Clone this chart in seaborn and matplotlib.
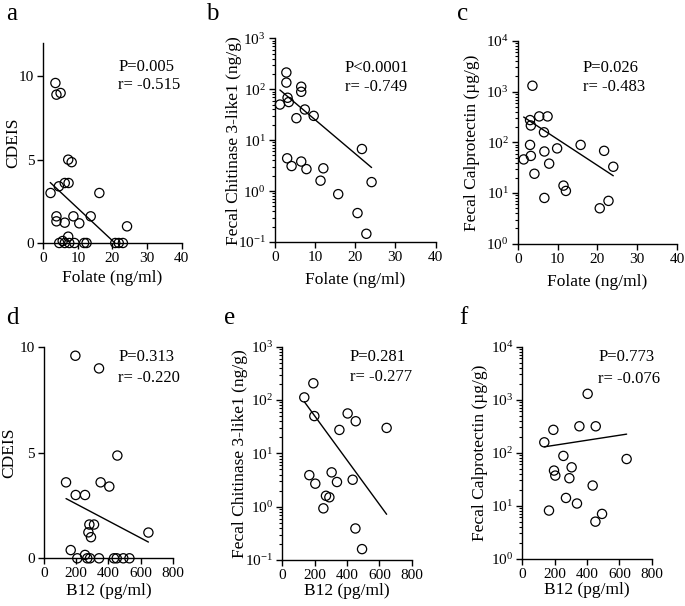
import numpy as np
import pandas as pd
import matplotlib
matplotlib.use("Agg")
import matplotlib.pyplot as plt
import matplotlib.ticker as mticker
import seaborn as sns

# ---- data ----
folate_a = [3.5, 3.8, 5.0, 7.2, 8.2, 2.1, 4.5, 6.2, 7.3, 16.2, 3.8, 3.8, 6.2, 8.7,
            10.4, 13.7, 24.2, 7.2, 5.6, 4.6, 6.2, 7.5, 9.0, 11.8, 12.5, 20.8, 21.8, 23.0]
cdeis_a = [9.6, 8.9, 9.0, 5.0, 4.85, 3.0, 3.4, 3.6, 3.6, 3.0, 1.6, 1.3, 1.22, 1.6,
           1.18, 1.6, 1.0, 0.38, 0.12, 0, 0, 0, 0, 0, 0, 0, 0, 0]

folate_b = [2.9, 2.9, 6.6, 6.6, 3.2, 3.5, 1.3, 7.5, 9.7, 5.4, 21.7, 3.1, 6.6, 4.2,
            7.9, 12.1, 11.4, 24.1, 15.8, 20.6, 22.8]
chi3l1_b = [213, 135, 112, 89, 68, 56, 50, 40, 30, 27, 6.7, 4.4, 3.8, 3.1,
            2.7, 2.8, 1.6, 1.5, 0.87, 0.37, 0.145]

folate_c = [3.7, 5.4, 7.5, 3.1, 3.3, 6.6, 3.1, 15.8, 9.9, 6.7, 21.7, 3.3, 1.5, 7.9,
            24.0, 4.2, 11.5, 12.1, 6.7, 22.8, 20.6]
calpro_c = [1310, 325, 325, 275, 215, 158, 89, 89, 76, 66, 68, 54, 46, 38,
            33, 24, 14, 11, 8, 7, 5]

b12_d = [195, 342, 456, 137, 352, 406, 197, 255, 282, 311, 276, 292, 649, 166, 255,
         207, 269, 286, 342, 435, 452, 493, 531]
cdeis_d = [9.6, 9.0, 4.87, 3.6, 3.6, 3.4, 3.0, 3.0, 1.6, 1.6, 1.23, 1.0, 1.22, 0.39, 0.16,
           0, 0, 0, 0, 0, 0, 0, 0]

b12_e = [192, 136, 198, 404, 454, 353, 645, 167, 204, 305, 338, 435, 270, 291, 254, 452, 493]
chi3l1_e = [206, 112, 50, 56, 40, 27.5, 30, 3.9, 2.7, 4.4, 2.9, 3.2, 1.6, 1.5, 0.93, 0.39, 0.16]

b12_f = [404, 192, 353, 454, 136, 254, 645, 305, 196, 204, 291, 435, 270, 338, 165, 493, 452]
calpro_f = [1290, 270, 315, 315, 157, 87, 76, 53, 46, 37, 33, 24, 14, 11, 8.1, 7, 5]

# regression lines (end points as drawn in the figure)
fit_a_x, fit_a_y = [2.0, 20.7], [3.63, 0.0]
fit_b_x, fit_b_y = [1.3, 24.1], [96.6, 2.9]
fit_c_x, fit_c_y = [1.5, 24.0], [316, 21.9]
fit_d_x, fit_d_y = [137, 649], [2.83, 0.77]
fit_e_x, fit_e_y = [136, 645], [93, 0.72]
fit_f_x, fit_f_y = [136, 645], [129, 224]

stats = ["P=0.005\nr= -0.515", "P<0.0001\nr= -0.749", "P=0.026\nr= -0.483",
         "P=0.313\nr= -0.220", "P=0.281\nr= -0.277", "P=0.773\nr= -0.076"]
letters = ["a", "b", "c", "d", "e", "f"]

sns.set_style("ticks")
plt.rcParams["font.family"] = ["Liberation Serif", "DejaVu Serif"]
plt.rcParams["mathtext.fontset"] = "custom"
plt.rcParams["mathtext.rm"] = "Liberation Serif"
plt.rcParams["axes.linewidth"] = 1.0
for key in ["text.color", "axes.labelcolor", "xtick.color", "ytick.color", "axes.edgecolor"]:
    plt.rcParams[key] = "black"

W, H = 685, 606
fig = plt.figure(figsize=(W / 100, H / 100), dpi=100)


def px_axes(left, top, right, bottom):
    return fig.add_axes([left / W, 1 - bottom / H, (right - left) / W, (bottom - top) / H])


panels = [
    # x, y, fit x, fit y, box, ylim, log, xlabel, ylabel, xmax, stat pos, ylabel x, xlabel y
    (folate_a, cdeis_a, fit_a_x, fit_a_y, (43.3, 43, 181.7, 243), (0, 12), False,
     "Folate (ng/ml)", "CDEIS", 40, (0.54, 0.88, 0.79), -0.22, -0.175),
    (folate_b, chi3l1_b, fit_b_x, fit_b_y, (274.7, 38.3, 435.5, 242), (0.1, 1000), True,
     "Folate (ng/ml)", "Fecal Chitinase 3-like1 (ng/g)", 40, (0.437, 0.853, 0.762), -0.25, -0.187),
    (folate_c, calpro_c, fit_c_x, fit_c_y, (517.7, 41, 677, 243.7), (1, 10000), True,
     "Folate (ng/ml)", "Fecal Calprotectin (\u00b5g/g)", 40, (0.41, 0.865, 0.772), -0.287, -0.187),
    (b12_d, cdeis_d, fit_d_x, fit_d_y, (44, 347.3, 172.7, 558.3), (0, 10), False,
     "B12 (pg/ml)", "CDEIS", 800, (0.577, 0.953, 0.853), -0.27, -0.154),
    (b12_e, chi3l1_e, fit_e_x, fit_e_y, (282.3, 346.7, 411.7, 560), (0.1, 1000), True,
     "B12 (pg/ml)", "Fecal Chitinase 3-like1 (ng/g)", 800, (0.523, 0.953, 0.857), -0.33, -0.144),
    (b12_f, calpro_f, fit_f_x, fit_f_y, (522.3, 346.7, 651.7, 558.7), (1, 10000), True,
     "B12 (pg/ml)", "Fecal Calprotectin (\u00b5g/g)", 800, (0.587, 0.95, 0.85), -0.33, -0.148),
]

letter_pos = [(12, 14), (212, 14), (463, 14), (12, 318), (230, 318), (463, 318)]

for i, (xs, ys, fx, fy, box, ylim, logy, xlab, ylab, xmax, spos, ylx, xly) in enumerate(panels):
    ax = px_axes(*box)
    df = pd.DataFrame({"x": xs, "y": ys})
    fit = pd.DataFrame({"x": fx, "y": fy})
    if logy:
        ax.set_yscale("log")
    sns.lineplot(data=fit, x="x", y="y", ax=ax, color="black", lw=1.0)
    sns.scatterplot(data=df, x="x", y="y", ax=ax, s=44, facecolor="none",
                    edgecolor="black", linewidth=0.9, clip_on=False, zorder=3)
    ax.set_xlim(0, xmax)
    ax.set_ylim(*ylim)
    ax.set_xticks(np.linspace(0, xmax, 5))
    if logy:
        ax.yaxis.set_major_locator(mticker.LogLocator(base=10, numticks=10))
        ax.yaxis.set_minor_locator(mticker.LogLocator(base=10, subs=np.arange(2, 10), numticks=10))
        ax.yaxis.set_minor_formatter(mticker.NullFormatter())
    else:
        ax.set_yticks([0, 5, 10])
    sns.despine(ax=ax)
    ax.tick_params(axis="both", which="major", length=4.5, width=1.0, labelsize=11, pad=2)
    ax.tick_params(axis="y", which="minor", length=2.5, width=0.8)
    ax.set_xlabel(xlab, fontsize=12.5)
    ax.set_ylabel(ylab, fontsize=12.5)
    ax.xaxis.label.set_va("center")
    ax.yaxis.label.set_va("center")
    ax.yaxis.set_label_coords(ylx, 0.5)
    ax.xaxis.set_label_coords(0.5, xly)
    sx, py, ry = spos
    p_txt, r_txt = stats[i].split("\n")
    ax.text(sx, py, p_txt, transform=ax.transAxes, fontsize=12, va="center", ha="left")
    ax.text(sx, ry, r_txt, transform=ax.transAxes, fontsize=12, va="center", ha="left")
    lx, ly = letter_pos[i]
    fig.text(lx / W, 1 - ly / H, letters[i], fontsize=18, ha="center", va="center")

fig.savefig("out.png", dpi=100)
